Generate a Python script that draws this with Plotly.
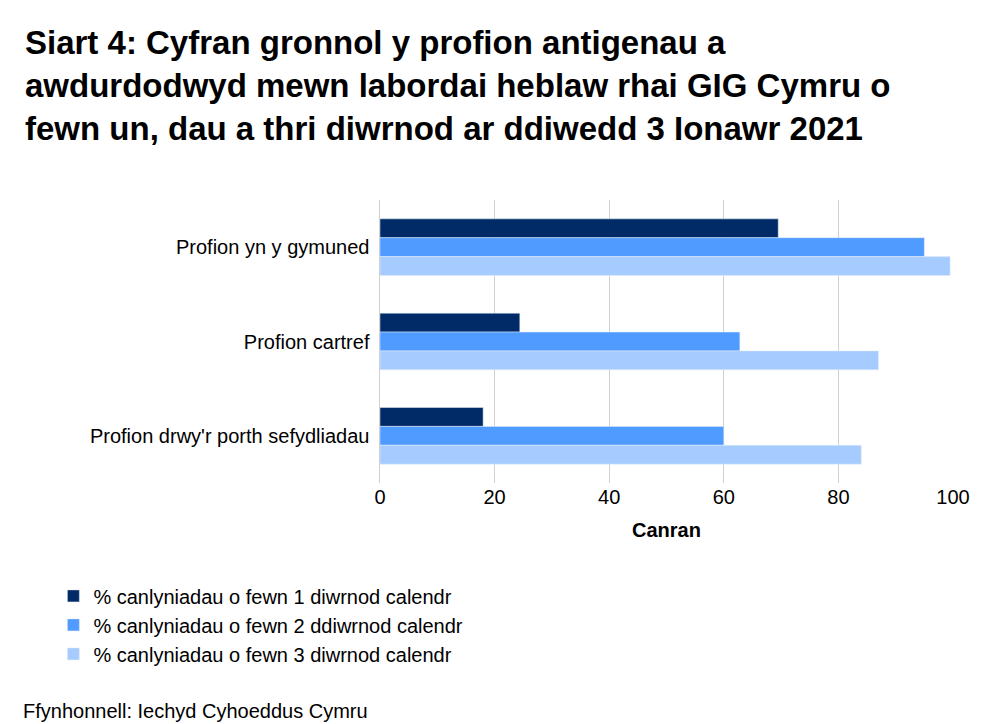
import plotly.graph_objects as go

categories = ["Profion yn y gymuned", "Profion cartref", "Profion drwy'r porth sefydliadau"]
series_names = ["% canlyniadau o fewn 1 diwrnod calendr",
                "% canlyniadau o fewn 2 ddiwrnod calendr",
                "% canlyniadau o fewn 3 diwrnod calendr"]
day1 = [69.5, 24.4, 18.0]
day2 = [95.0, 62.8, 60.0]
day3 = [99.5, 87.0, 84.0]
colors = ["#002b66", "#4f9bff", "#a6ccff"]

fig = go.Figure()
for name, vals, c in zip(series_names, [day1, day2, day3], colors):
    fig.add_trace(go.Bar(y=categories, x=vals, name=name, orientation="h",
                         marker_color=c))

fig.update_layout(
    width=990, height=724,
    font=dict(family="Liberation Sans, Arial", size=20, color="#000"),
    barmode="group", bargap=0.4, bargroupgap=0,
    plot_bgcolor="white", paper_bgcolor="white",
    margin=dict(l=372, r=45, t=192, b=249),
    xaxis=dict(range=[0, 100], dtick=20, showgrid=True, gridcolor="#d0d0d0",
               title=dict(text="<b>Canran</b>", font=dict(size=20)), zeroline=False,
               ticks="", ticklen=0),
    yaxis=dict(autorange="reversed", showline=True, linecolor="#d0d0d0", ticks="",
               ticksuffix=" "),
    legend=dict(orientation="h", x=-0.57, xanchor="left", y=-0.33, yanchor="top",
                traceorder="normal", font=dict(size=20), itemwidth=30,
                entrywidth=470, entrywidthmode="pixels"),
    annotations=[
        dict(text="<b>Siart 4: Cyfran gronnol y profion antigenau a<br>awdurdodwyd mewn labordai heblaw rhai GIG Cymru o<br>fewn un, dau a thri diwrnod ar ddiwedd 3 Ionawr 2021</b>",
             xref="paper", yref="paper", x=-0.623, y=1.63, xanchor="left", yanchor="top",
             align="left", showarrow=False, font=dict(size=33)),
        dict(text="Ffynhonnell: Iechyd Cyhoeddus Cymru", xref="paper", yref="paper",
             x=-0.627, y=-0.85, xanchor="left", yanchor="bottom", showarrow=False,
             font=dict(size=20))],
)
fig.write_html("out.html")
